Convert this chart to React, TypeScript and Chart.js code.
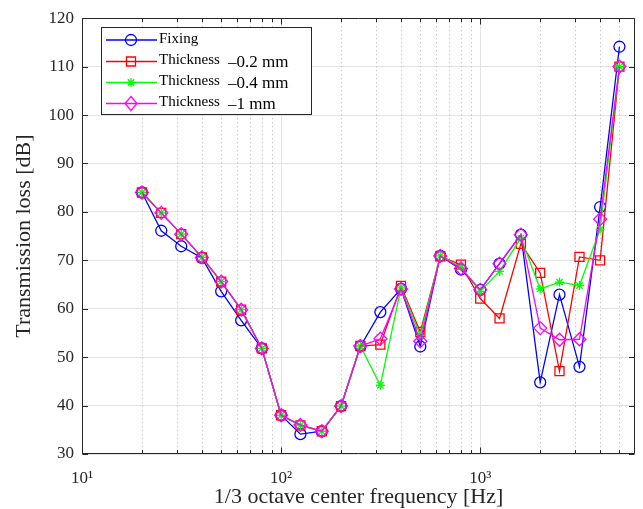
import React, { useEffect, useRef } from 'react';
import { Chart, registerables } from 'chart.js';

Chart.register(...registerables);

const FREQUENCIES = [20, 25, 31.5, 40, 50, 63, 80, 100, 125, 160, 200, 250, 315, 400, 500, 630, 800, 1000, 1250, 1600, 2000, 2500, 3150, 4000, 5000];
const FIXING = [84.0, 76.1, 72.9, 70.5, 63.6, 57.6, 51.8, 38.0, 34.1, 34.7, 39.9, 52.2, 59.3, 64.1, 52.2, 70.9, 68.1, 63.9, 69.3, 75.3, 44.8, 62.9, 48.0, 81.0, 114.1];
const THICK_02 = [84.0, 79.8, 75.4, 70.6, 65.6, 59.8, 51.8, 38.0, 35.9, 34.7, 39.9, 52.3, 52.6, 64.7, 55.2, 70.8, 69.1, 62.1, 58.0, 73.4, 67.4, 47.1, 70.7, 70.0, 110.0];
const THICK_04 = [84.0, 79.8, 75.4, 70.6, 65.6, 59.8, 51.8, 38.0, 35.9, 34.7, 39.9, 52.3, 44.2, 64.3, 54.5, 70.9, 68.6, 63.6, 67.7, 74.6, 64.1, 65.5, 64.8, 76.4, 110.0];
const THICK_1 = [84.0, 79.8, 75.4, 70.6, 65.6, 59.8, 51.8, 38.0, 36.0, 34.7, 39.9, 52.3, 53.8, 64.1, 53.3, 70.9, 68.3, 63.9, 69.3, 75.3, 56.0, 53.6, 53.7, 78.5, 110.0];

const SERIES_NAMES = ['Fixing', 'Thickness', 'Thickness', 'Thickness'];
const SERIES_SUFFIX = ['', '\u20130.2 mm', '\u20130.4 mm', '\u20131 mm'];
const SERIES_COLORS = ['#0000ff', '#ff0000', '#00ff00', '#ff00ff'];
const SERIES_MARKERS = ['circle', 'rect', 'star', 'rectRot'];

const Y_TICKS = [30, 40, 50, 60, 70, 80, 90, 100, 110, 120];
const X_MAJOR_TICKS = [10, 100, 1000];
const X_LABELS = ['10\u00b9', '10\u00b2', '10\u00b3'];
const X_MINOR_TICKS = [20, 30, 40, 50, 60, 70, 80, 90, 200, 300, 400, 500, 600, 700, 800, 900, 2000, 3000, 4000, 5000];

const FONT = "'Liberation Serif', 'Times New Roman', serif";
const AXIS_COLOR = '#262626';

function drawMarker(ctx: CanvasRenderingContext2D, style: string, x: number, y: number, color: string) {
  ctx.save();
  ctx.strokeStyle = color;
  ctx.lineWidth = 1.3;
  ctx.beginPath();
  if (style === 'circle') {
    ctx.arc(x, y, 5.5, 0, Math.PI * 2);
  } else if (style === 'rect') {
    ctx.rect(x - 4.5, y - 4.5, 9, 9);
  } else if (style === 'rectRot') {
    ctx.moveTo(x, y - 7);
    ctx.lineTo(x + 6, y);
    ctx.lineTo(x, y + 7);
    ctx.lineTo(x - 6, y);
    ctx.closePath();
  } else {
    const r = 4.5;
    for (let k = 0; k < 4; k++) {
      const ang = (k * Math.PI) / 4;
      ctx.moveTo(x - Math.cos(ang) * r, y - Math.sin(ang) * r);
      ctx.lineTo(x + Math.cos(ang) * r, y + Math.sin(ang) * r);
    }
  }
  ctx.stroke();
  ctx.restore();
}

const matlabAxes = {
  id: 'matlabAxes',
  beforeDatasetsDraw(chart: any) {
    const { ctx, chartArea: a, scales } = chart;
    const x = scales.x;
    ctx.save();
    ctx.strokeStyle = '#b8b8b8';
    ctx.lineWidth = 1;
    ctx.setLineDash([1, 3]);
    for (const v of X_MINOR_TICKS) {
      const px = Math.round(x.getPixelForValue(v)) + 0.5;
      ctx.beginPath();
      ctx.moveTo(px, a.top);
      ctx.lineTo(px, a.bottom);
      ctx.stroke();
    }
    ctx.restore();
  },
  afterDatasetsDraw(chart: any) {
    const { ctx, chartArea: a, scales } = chart;
    const x = scales.x;
    const y = scales.y;
    ctx.save();
    ctx.strokeStyle = AXIS_COLOR;
    ctx.lineWidth = 1;
    const L = Math.round(a.left) + 0.5;
    const R = Math.round(a.right) - 0.5;
    const T = Math.round(a.top) + 0.5;
    const B = Math.round(a.bottom) - 0.5;
    ctx.beginPath();
    ctx.rect(L, T, R - L, B - T);
    ctx.stroke();
    ctx.beginPath();
    for (const v of Y_TICKS) {
      const py = Math.round(y.getPixelForValue(v)) + 0.5;
      ctx.moveTo(L, py);
      ctx.lineTo(L + 5.5, py);
      ctx.moveTo(R, py);
      ctx.lineTo(R - 5.5, py);
    }
    for (const v of X_MAJOR_TICKS) {
      const px = Math.round(x.getPixelForValue(v)) + 0.5;
      ctx.moveTo(px, B);
      ctx.lineTo(px, B - 6);
      ctx.moveTo(px, T);
      ctx.lineTo(px, T + 6);
    }
    for (const v of X_MINOR_TICKS) {
      const px = Math.round(x.getPixelForValue(v)) + 0.5;
      ctx.moveTo(px, B);
      ctx.lineTo(px, B - 3.5);
      ctx.moveTo(px, T);
      ctx.lineTo(px, T + 3.5);
    }
    ctx.stroke();
    ctx.restore();
  },
  afterDraw(chart: any) {
    const { ctx } = chart;
    ctx.save();
    // legend box
    const bx = 101.5, by = 27.5, bw = 210, bh = 87;
    ctx.fillStyle = '#ffffff';
    ctx.fillRect(bx, by, bw, bh);
    ctx.strokeStyle = AXIS_COLOR;
    ctx.lineWidth = 1;
    ctx.strokeRect(bx, by, bw, bh);
    const rowY = [40, 61.5, 82.5, 103.5];
    chart.data.datasets.forEach((ds: any, i: number) => {
      const yy = rowY[i];
      ctx.strokeStyle = SERIES_COLORS[i];
      ctx.lineWidth = 1.3;
      ctx.beginPath();
      ctx.moveTo(106, yy);
      ctx.lineTo(157, yy);
      ctx.stroke();
      drawMarker(ctx, SERIES_MARKERS[i], 131, yy, SERIES_COLORS[i]);
      ctx.fillStyle = '#000000';
      ctx.textBaseline = 'middle';
      ctx.textAlign = 'left';
      ctx.font = `15px ${FONT}`;
      ctx.fillText(SERIES_NAMES[i], 159, yy - 1);
      if (SERIES_SUFFIX[i]) {
        ctx.font = `17px ${FONT}`;
        ctx.fillText(SERIES_SUFFIX[i], 228, yy + 1);
      }
    });
    ctx.restore();
  },
};

function makeDataset(i: number, values: number[], order: number) {
  return {
    label: SERIES_NAMES[i] + (SERIES_SUFFIX[i] ? ' ' + SERIES_SUFFIX[i] : ''),
    data: FREQUENCIES.map((f, k) => ({ x: f, y: values[k] })),
    showLine: true,
    borderColor: SERIES_COLORS[i],
    backgroundColor: 'rgba(0,0,0,0)',
    borderWidth: 1.3,
    pointStyle: SERIES_MARKERS[i],
    pointRadius: SERIES_MARKERS[i] === 'rect' ? 6.4 : SERIES_MARKERS[i] === 'rectRot' ? 6.5 : SERIES_MARKERS[i] === 'star' ? 4.5 : 5.5,
    pointBorderWidth: 1.3,
    pointBackgroundColor: 'rgba(0,0,0,0)',
    pointBorderColor: SERIES_COLORS[i],
    tension: 0,
    order,
  };
}

export default function App() {
  const canvasRef = useRef<HTMLCanvasElement | null>(null);

  useEffect(() => {
    const canvas = canvasRef.current;
    if (!canvas) return;
    Chart.defaults.font.family = FONT;
    const chart = new Chart(canvas, {
      type: 'scatter',
      data: {
        datasets: [
          makeDataset(0, FIXING, 4),
          makeDataset(1, THICK_02, 3),
          makeDataset(2, THICK_04, 2),
          makeDataset(3, THICK_1, 1),
        ],
      },
      options: {
        responsive: false,
        devicePixelRatio: 1,
        animation: false,
        layout: { padding: { top: 17, right: 7, left: 0, bottom: 0 } },
        plugins: { legend: { display: false }, tooltip: { enabled: false } },
        scales: {
          x: {
            type: 'logarithmic',
            min: 10,
            max: 6000,
            afterBuildTicks: (s: any) => {
              s.ticks = X_MAJOR_TICKS.map((v) => ({ value: v }));
            },
            afterFit: (s: any) => {
              s.height = 55;
            },
            ticks: {
              autoSkip: false,
              maxRotation: 0,
              padding: 14,
              color: AXIS_COLOR,
              font: { size: 17, family: FONT },
              callback: (_v: any, i: number) => X_LABELS[i],
            },
            grid: { color: '#e2e2e2', drawTicks: false, lineWidth: 1 },
            border: { display: false },
            title: {
              display: true,
              text: '1/3 octave center frequency [Hz]',
              color: AXIS_COLOR,
              font: { size: 22, family: FONT, lineHeight: 1.1 },
              padding: 0,
            },
          },
          y: {
            type: 'linear',
            min: 30,
            max: 120,
            afterBuildTicks: (s: any) => {
              s.ticks = Y_TICKS.map((v) => ({ value: v }));
            },
            afterFit: (s: any) => {
              s.width = 82;
            },
            ticks: {
              padding: 8,
              color: AXIS_COLOR,
              font: { size: 17, family: FONT },
            },
            grid: { color: '#e2e2e2', drawTicks: false, lineWidth: 1 },
            border: { display: false },
            title: {
              display: true,
              text: 'Transmission loss [dB]',
              color: AXIS_COLOR,
              font: { size: 22, family: FONT, lineHeight: 1.2 },
              padding: { top: 11, bottom: 0 },
            },
          },
        },
      } as any,
      plugins: [matlabAxes],
    });
    return () => chart.destroy();
  }, []);

  return (
    <div style={{ position: 'fixed', left: 0, top: 0, width: 643, height: 509, background: '#ffffff' }}>
      <canvas ref={canvasRef} width={643} height={509} style={{ display: 'block' }} />
    </div>
  );
}
